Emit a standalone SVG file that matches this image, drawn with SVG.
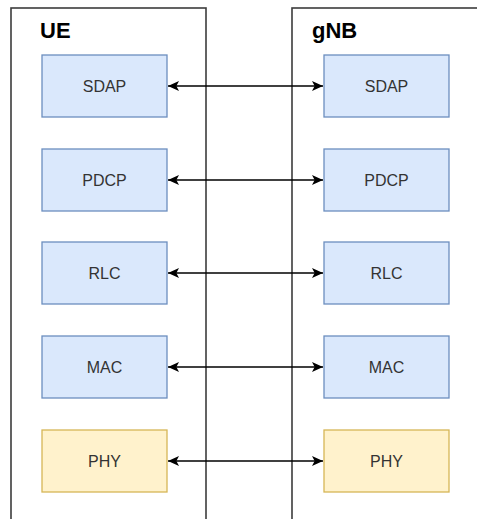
<svg xmlns="http://www.w3.org/2000/svg" width="477" height="519" viewBox="0 0 477 519">
  <style>
    .container { fill: #ffffff; stroke: #3c3c3c; stroke-width: 1.6; }
    .title { font-family: "Liberation Sans", Arial, sans-serif; font-size: 22px; font-weight: bold; fill: #000000; }
    .layer { stroke-width: 1.3; }
    .blue { fill: #dae8fc; stroke: #6c8ebf; }
    .yellow { fill: #fff2cc; stroke: #d6b656; }
    .label { font-family: "Liberation Sans", Arial, sans-serif; font-size: 16px; fill: #333333; text-anchor: middle; dominant-baseline: central; }
    .link { stroke: #000000; stroke-width: 1.4; fill: none; marker-start: url(#arrow); marker-end: url(#arrow); }
  </style>
  <defs>
    <marker id="arrow" markerUnits="userSpaceOnUse" markerWidth="11" markerHeight="11" viewBox="0 0 10 10" refX="10" refY="5" orient="auto-start-reverse">
      <path d="M0,0.5 L10,5 L0,9.5 L2.4,5 Z" fill="#000000"/>
    </marker>
  </defs>

  <rect width="477" height="519" fill="#ffffff"/>

  <!-- UE stack -->
  <g id="ue">
    <rect class="container" x="11" y="8" width="195" height="530"/>
    <text class="title" x="40" y="38">UE</text>
  </g>

  <!-- gNB stack -->
  <g id="gnb">
    <rect class="container" x="292" y="8" width="200" height="530"/>
    <text class="title" x="312" y="38">gNB</text>
  </g>

  <!-- UE layers -->
  <g id="ue-sdap"><rect class="layer blue" x="42" y="55" width="125" height="62"/><text class="label" x="104.5" y="86">SDAP</text></g>
  <g id="ue-pdcp"><rect class="layer blue" x="42" y="149" width="125" height="62"/><text class="label" x="104.5" y="180">PDCP</text></g>
  <g id="ue-rlc"><rect class="layer blue" x="42" y="242" width="125" height="62"/><text class="label" x="104.5" y="273">RLC</text></g>
  <g id="ue-mac"><rect class="layer blue" x="42" y="336" width="125" height="62"/><text class="label" x="104.5" y="367">MAC</text></g>
  <g id="ue-phy"><rect class="layer yellow" x="42" y="430" width="125" height="62"/><text class="label" x="104.5" y="461">PHY</text></g>

  <!-- gNB layers -->
  <g id="gnb-sdap"><rect class="layer blue" x="324" y="55" width="125" height="62"/><text class="label" x="386.5" y="86">SDAP</text></g>
  <g id="gnb-pdcp"><rect class="layer blue" x="324" y="149" width="125" height="62"/><text class="label" x="386.5" y="180">PDCP</text></g>
  <g id="gnb-rlc"><rect class="layer blue" x="324" y="242" width="125" height="62"/><text class="label" x="386.5" y="273">RLC</text></g>
  <g id="gnb-mac"><rect class="layer blue" x="324" y="336" width="125" height="62"/><text class="label" x="386.5" y="367">MAC</text></g>
  <g id="gnb-phy"><rect class="layer yellow" x="324" y="430" width="125" height="62"/><text class="label" x="386.5" y="461">PHY</text></g>

  <!-- peer-to-peer links -->
  <g id="connectors">
    <line class="link" x1="168" y1="86" x2="323" y2="86"/>
    <line class="link" x1="168" y1="180" x2="323" y2="180"/>
    <line class="link" x1="168" y1="273" x2="323" y2="273"/>
    <line class="link" x1="168" y1="367" x2="323" y2="367"/>
    <line class="link" x1="168" y1="461" x2="323" y2="461"/>
  </g>
</svg>
